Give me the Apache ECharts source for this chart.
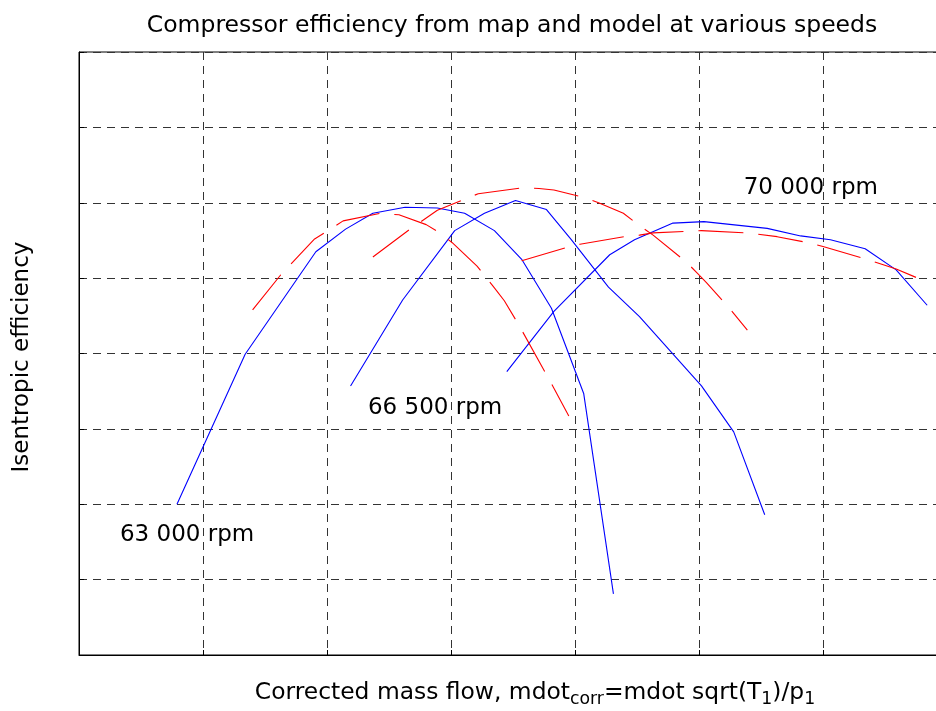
<!DOCTYPE html>
<html>
<head>
<meta charset="utf-8">
<script src="https://cdn.jsdelivr.net/npm/echarts@6/dist/echarts.min.js"></script>
<style>html,body{margin:0;padding:0;background:#fff;overflow:hidden;width:936px;height:711px;}#c{width:960px;height:711px;}</style>
</head>
<body>
<div id="c"></div>
<script>
// ---- data (arbitrary axis units: grid cells) ----
const titleText = 'Compressor efficiency from map and model at various speeds';
const yTitle = 'Isentropic efficiency';

// Map (solid blue) curves
const map63x = [0.79, 1.34, 1.91, 2.15, 2.37, 2.63, 2.89, 3.11, 3.35, 3.57, 3.81, 4.07, 4.31];
const map63y = [2.00, 3.99, 5.35, 5.65, 5.86, 5.94, 5.93, 5.86, 5.63, 5.25, 4.60, 3.47, 0.81];
const map66x = [2.19, 2.61, 3.03, 3.27, 3.52, 3.77, 3.97, 4.27, 4.52, 5.02, 5.28, 5.53];
const map66y = [3.57, 4.71, 5.63, 5.86, 6.03, 5.91, 5.51, 4.88, 4.49, 3.57, 2.96, 1.86];
const map70x = [3.45, 3.83, 4.28, 4.48, 4.79, 5.04, 5.55, 5.82, 6.06, 6.34, 6.59, 6.84];
const map70y = [3.76, 4.56, 5.31, 5.51, 5.73, 5.75, 5.66, 5.56, 5.51, 5.39, 5.11, 4.64];

// Model (dashed red) curves
const mod63x = [1.40, 1.63, 1.90, 1.99, 2.13, 2.43, 2.58, 2.80, 2.91, 3.01, 3.21, 3.35, 3.43, 3.55, 3.79, 3.95];
const mod63y = [4.58, 5.05, 5.52, 5.61, 5.76, 5.86, 5.84, 5.71, 5.60, 5.47, 5.16, 4.87, 4.70, 4.37, 3.66, 3.17];
const mod66x = [2.37, 2.67, 2.89, 3.10, 3.22, 3.58, 3.71, 3.83, 4.07, 4.19, 4.39, 4.51, 4.63, 4.90, 4.99, 5.06, 5.24, 5.39];
const mod66y = [5.28, 5.65, 5.90, 6.04, 6.12, 6.20, 6.19, 6.17, 6.07, 6.00, 5.86, 5.71, 5.57, 5.21, 5.06, 4.94, 4.61, 4.31];
const mod70x = [3.57, 3.92, 4.04, 4.40, 4.52, 4.63, 4.90, 5.02, 5.39, 5.63, 5.88, 6.00, 6.35, 6.48, 6.59, 6.75];
const mod70y = [5.23, 5.40, 5.45, 5.55, 5.57, 5.60, 5.62, 5.63, 5.60, 5.55, 5.47, 5.42, 5.25, 5.18, 5.12, 5.01];

// speed annotations (data coords, left edge of text)
const speedLabels = ['63 000 rpm', '66 500 rpm', '70 000 rpm'];
const speedLabelX = [0.33, 2.33, 5.36];
const speedLabelY = [1.59, 3.28, 6.20];

const xMin = 0, xMax = 7, xStep = 1;
const yMin = 0, yMax = 8, yStep = 1;

// ---- build ----
const zip = (xs, ys) => xs.map((x, i) => [x, ys[i]]);
const FONT = 'DejaVu Sans';

function mapSeries(xs, ys) {
  return { type: 'line', data: zip(xs, ys), showSymbol: false, symbol: 'none',
    lineStyle: { color: '#0000ff', width: 1.1 }, silent: true, z: 3 };
}
function modelSeries(xs, ys) {
  return { type: 'line', data: zip(xs, ys), showSymbol: false, symbol: 'none',
    lineStyle: { color: '#ff0000', width: 1.1, type: [45, 15] }, silent: true, z: 4 };
}

const axisCommon = {
  type: 'value',
  axisLabel: { show: false },
  axisLine: { show: true, lineStyle: { color: '#000', width: 1 } },
  axisTick: { show: true, inside: true, length: 5, lineStyle: { color: '#000' } },
  splitLine: { show: true, lineStyle: { color: '#333', width: 1, type: [8, 6] } }
};

const chart = echarts.init(document.getElementById('c'), null, { renderer: 'canvas' });
chart.setOption({
  animation: false,
  backgroundColor: '#fff',
  grid: { left: 79, top: 52, width: 868, height: 603, show: true, borderColor: '#000', borderWidth: 1, backgroundColor: 'transparent', containLabel: false },
  xAxis: Object.assign({}, axisCommon, { min: xMin, max: xMax, interval: xStep }),
  yAxis: Object.assign({}, axisCommon, { min: yMin, max: yMax, interval: yStep }),
  series: [
    mapSeries(map63x, map63y),
    mapSeries(map66x, map66y),
    mapSeries(map70x, map70y),
    modelSeries(mod63x, mod63y),
    modelSeries(mod66x, mod66y),
    modelSeries(mod70x, mod70y),
    {
      type: 'scatter', symbolSize: 0, silent: true, z: 5,
      itemStyle: { opacity: 1 },
      data: speedLabels.map((t, i) => [speedLabelX[i], speedLabelY[i], t]),
      label: { show: true, position: 'right', distance: 0, opacity: 1,
        formatter: p => p.value[2], color: '#000', fontFamily: FONT, fontSize: 23 }
    }
  ],
  graphic: [
    { type: 'text', x: 512, y: 26, silent: true,
      style: { text: titleText, font: '23.5px "DejaVu Sans"', fill: '#000', align: 'center', verticalAlign: 'middle' } },
    { type: 'text', x: 22, y: 357, rotation: Math.PI / 2, silent: true,
      style: { text: yTitle, font: '23px "DejaVu Sans"', fill: '#000', align: 'center', verticalAlign: 'middle' } },
    { type: 'text', x: 535, y: 694, silent: true,
      style: {
        text: '{m|Corrected mass flow, mdot}{s|corr}{m|=mdot sqrt(T}{s|1}{m|)/p}{s|1}',
        align: 'center', verticalAlign: 'middle', fill: '#000',
        rich: {
          m: { fontFamily: FONT, fontSize: 23.4, lineHeight: 26, verticalAlign: 'top', fill: '#000' },
          s: { fontFamily: FONT, fontSize: 17.3, lineHeight: 22, verticalAlign: 'top', padding: [10, 0, 0, 0], fill: '#000' }
        }
      } }
  ]
});
</script>
</body>
</html>
